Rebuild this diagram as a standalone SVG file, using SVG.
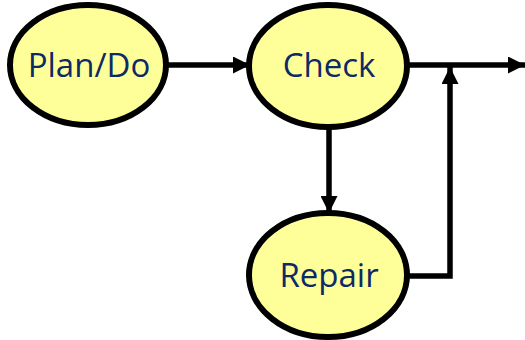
<svg xmlns="http://www.w3.org/2000/svg" width="525" height="340" viewBox="0 0 525 340">
  <style>
    .node ellipse { fill: #ffff99; stroke: #000; stroke-width: 6; }
    .node text { font-family: "Open Sans", "Liberation Sans", sans-serif; font-size: 33px; fill: #0c2a66; text-anchor: middle; }
    .edge { fill: none; stroke: #000; stroke-width: 5.5; }
  </style>
  <defs>
    <marker id="arrow" viewBox="0 0 17 17" refX="17" refY="8.5" markerWidth="17" markerHeight="17" markerUnits="userSpaceOnUse" orient="auto">
      <path d="M0,0 L17,8.5 L0,17 z" fill="#000"/>
    </marker>
  </defs>

  <g id="connectors">
    <line class="edge" x1="167" y1="65" x2="250" y2="65" marker-end="url(#arrow)"/>
    <line class="edge" x1="407" y1="65" x2="525" y2="65" marker-end="url(#arrow)"/>
    <line class="edge" x1="329" y1="127" x2="329" y2="213" marker-end="url(#arrow)"/>
    <polyline class="edge" points="407,276 450,276 450,67" marker-end="url(#arrow)"/>
  </g>

  <g id="plan-do" class="node">
    <ellipse cx="88" cy="65" rx="78" ry="60"/>
    <text x="89" y="77">Plan/Do</text>
  </g>
  <g id="check" class="node">
    <ellipse cx="328" cy="66" rx="79" ry="61"/>
    <text x="329" y="77">Check</text>
  </g>
  <g id="repair" class="node">
    <ellipse cx="328" cy="275" rx="79" ry="62"/>
    <text x="329" y="287">Repair</text>
  </g>
</svg>
